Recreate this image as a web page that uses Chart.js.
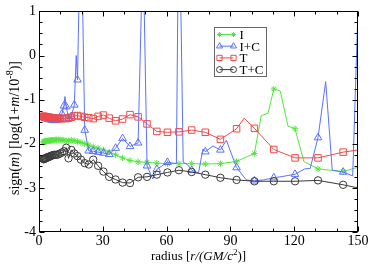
<!DOCTYPE html>
<html>
<head>
<meta charset="utf-8">
<script src="https://cdn.jsdelivr.net/npm/chart.js@4.4.1/dist/chart.umd.min.js"></script>
<style>
  html, body { margin: 0; padding: 0; background: #fff; }
  #wrap { width: 374px; height: 272px; position: relative; }
</style>
</head>
<body>
<div id="wrap"><canvas id="c"></canvas></div>
<script>
// radial grid the four runs were sampled on (markers sit on these)
const radius = [2.1, 2.3, 2.5, 2.7, 3.0, 3.2, 3.5, 3.8, 4.2, 4.6,
  5.0, 5.4, 5.9, 6.4, 7.0, 7.6, 8.3, 9.1, 9.9, 10.8,
  11.7, 12.8, 13.9, 15.2, 16.6, 18.1, 19.7, 21.5, 23.4, 25.5,
  27.8, 30.3, 33.0, 36.0, 39.3, 42.8, 46.6, 50.8, 55.4, 60.4,
  65.8, 71.8, 78.2, 85.3, 92.9, 101.3, 110.4, 120.4, 131.2, 143.0, 155.9];

// sign(m) log(1+|m|/1e-8) at each radius
const iVals = [-1.96, -1.96, -1.95, -1.95, -1.95, -1.94, -1.94, -1.94, -1.93, -1.93,
  -1.93, -1.93, -1.92, -1.92, -1.92, -1.91, -1.91, -1.91, -1.91, -1.92,
  -1.92, -1.93, -1.93, -1.92, -1.93, -1.95, -1.97, -2.00, -2.03, -2.07,
  -2.10, -2.14, -2.19, -2.25, -2.32, -2.38, -2.41, -2.42, -2.44, -2.45,
  -2.45, -2.45, -2.46, -2.45, -2.40, -2.22, -0.76, -1.66, -2.57, -2.63, -2.45];
const icVals = [-1.40, -1.40, -1.41, -1.41, -1.42, -1.42, -1.43, -1.43, -1.44, -1.44,
  -1.45, -1.45, -1.46, -1.46, -1.47, -1.47, -1.46, -1.45, -1.42, -1.32,
  -1.14, -1.16, -1.42, -1.38, -1.12, -0.55, 3.5, -1.69, -2.16, -2.17,
  -2.19, -2.21, -2.24, -2.10, -1.88, -2.06, -1.98, -2.50, -2.58, -2.42,
  4.0, -2.60, -2.18, -2.14, -2.54, -2.84, -2.77, -2.69, -1.86, -2.64, 10];
const tVals = [-1.38, -1.38, -1.38, -1.39, -1.39, -1.39, -1.39, -1.40, -1.40, -1.40,
  -1.40, -1.41, -1.41, -1.41, -1.42, -1.42, -1.42, -1.43, -1.43, -1.43,
  -1.42, -1.43, -1.42, -1.40, -1.37, -1.36, -1.38, -1.40, -1.41, -1.43,
  -1.38, -1.35, -1.42, -1.48, -1.44, -1.34, -1.39, -1.55, -1.72, -1.74,
  -1.73, -1.69, -1.74, -1.90, -1.66, -1.65, -2.13, -2.32, -2.32, -2.19, -2.10];
const tcVals = [-2.35, -2.35, -2.34, -2.34, -2.33, -2.33, -2.32, -2.31, -2.30, -2.30,
  -2.29, -2.28, -2.27, -2.26, -2.25, -2.25, -2.25, -2.24, -2.22, -2.20,
  -2.17, -2.09, -2.33, -2.14, -2.22, -2.28, -2.36, -2.44, -2.47, -2.36,
  -2.50, -2.63, -2.75, -2.81, -2.88, -2.89, -2.76, -2.75, -2.70, -2.65,
  -2.60, -2.64, -2.70, -2.77, -2.82, -2.85, -2.85, -2.85, -2.83, -2.93, -3.06];

// in-between points of the lines (drawn without a marker)
const iMidR = [104.5, 107.7, 113.4, 117.1, 124.5];
const iMidV = [-1.36, -1.31, -0.80, -1.60, -2.40];
const icMidR = [12.2, 17.5, 48.9, 53.5, 64.6, 67.8, 69.8, 75.0, 77.1, 81.8,
  88.1, 97.5, 105.5, 114.7, 124.9, 127.5, 134.8, 137.9, 147.5];
const icMidV = [-0.93, 0.0, 2.6, -2.80, -2.45, -2.42, -2.47, -2.66, -2.12, -2.05,
  -1.92, -2.82, -2.82, -2.74, -2.57, -2.56, -0.59, -2.60, -2.73];
const tMidR = [96.5];
const tMidV = [-1.42];
const tcMidR = [];
const tcMidV = [];

const seriesNames = ['I', 'I+C', 'T', 'T+C'];
const xMajor = [0, 30, 60, 90, 120, 150];
const yMajor = [-4, -3, -2, -1, 0, 1];
const xMinorStep = 10;
const yMinorStep = 0.25;

const SERIF = '"Liberation Serif", "Times New Roman", serif';

function build(vals, midR, midV) {
  const pts = radius.map((r, i) => ({ x: r, y: vals[i], m: 1 }));
  midR.forEach((r, i) => pts.push({ x: r, y: midV[i], m: 0 }));
  return pts.sort((a, b) => a.x - b.x);
}

const looks = [
  { color: '#55e640', pointStyle: 'star', r: 3.2 },
  { color: '#5a72ff', pointStyle: 'triangle', r: 4.4 },
  { color: '#f04a4a', pointStyle: 'rect', r: 4.6 },
  { color: '#3a3a3a', pointStyle: 'circle', r: 3.7 }
];
const dataSets = [
  build(iVals, iMidR, iMidV),
  build(icVals, icMidR, icMidV),
  build(tVals, tMidR, tMidV),
  build(tcVals, tcMidR, tcMidV)
];

function drawRuns(ctx, runs, size, cx, baseY) {
  const font = (r) => (r.it ? 'italic ' : '') + (r.sup ? Math.round(size * 0.68) : size) + 'px ' + SERIF;
  let total = 0;
  runs.forEach(r => { ctx.font = font(r); r.w = ctx.measureText(r.t).width; total += r.w; });
  let x = cx - total / 2;
  ctx.textAlign = 'left';
  ctx.textBaseline = 'alphabetic';
  runs.forEach(r => {
    ctx.font = font(r);
    ctx.fillText(r.t, x, baseY - (r.sup ? size * 0.42 : 0));
    x += r.w;
  });
}

// frame, inward ticks on all four sides, axis titles, legend
const decor = {
  id: 'decor',
  afterDraw(chart) {
    const { ctx, chartArea: a, scales } = chart;
    const xs = scales.x, ys = scales.y;
    ctx.save();
    ctx.strokeStyle = '#000';
    ctx.lineWidth = 1;
    const L = Math.round(a.left) + 0.5, R = Math.round(a.right) - 0.5;
    const T = Math.round(a.top) + 0.5, B = Math.round(a.bottom) - 0.5;
    ctx.strokeRect(L, T, R - L, B - T);
    ctx.beginPath();
    for (let v = xMajor[0]; v <= xMajor[xMajor.length - 1] + 1e-9; v += xMinorStep) {
      const len = xMajor.includes(v) ? 5 : 3;
      const px = Math.round(xs.getPixelForValue(v)) + 0.5;
      ctx.moveTo(px, B); ctx.lineTo(px, B - len);
      ctx.moveTo(px, T); ctx.lineTo(px, T + len);
    }
    for (let v = yMajor[0]; v <= yMajor[yMajor.length - 1] + 1e-9; v += yMinorStep) {
      const len = Math.abs(v - Math.round(v)) < 1e-6 ? 5 : 3;
      const py = Math.round(ys.getPixelForValue(v)) + 0.5;
      ctx.moveTo(L, py); ctx.lineTo(L + len, py);
      ctx.moveTo(R, py); ctx.lineTo(R - len, py);
    }
    ctx.stroke();

    ctx.fillStyle = '#000';
    drawRuns(ctx, [{ t: 'radius [' }, { t: 'r/(GM/c', it: true }, { t: '2', sup: true }, { t: ')]' }],
      13, (a.left + a.right) / 2, 260);
    ctx.save();
    ctx.translate(19, 128);
    ctx.rotate(-Math.PI / 2);
    drawRuns(ctx, [{ t: 'sign(' }, { t: 'm', it: true }, { t: ') [log(1+' }, { t: 'm', it: true },
      { t: '/10' }, { t: '-8', sup: true }, { t: ')]' }], 14, 0, 0);
    ctx.restore();

    // legend box
    const bx = 214.5, by = 27.5, bw = 52, bh = 49;
    ctx.fillStyle = '#fff';
    ctx.fillRect(bx, by, bw, bh);
    ctx.strokeStyle = '#666';
    ctx.strokeRect(bx, by, bw, bh);
    seriesNames.forEach((name, i) => {
      const y = by + 7 + i * 11.7;
      const lk = looks[i];
      ctx.strokeStyle = lk.color;
      ctx.fillStyle = 'rgba(0,0,0,0)';
      ctx.lineWidth = 1;
      ctx.beginPath();
      ctx.moveTo(bx + 5, y); ctx.lineTo(bx + 19, y);
      ctx.stroke();
      [bx + 5, bx + 19].forEach(px => {
        Chart.helpers.drawPoint(ctx, { pointStyle: lk.pointStyle, radius: lk.r * 0.8, rotation: 0, borderWidth: 1 }, px, y);
      });
      ctx.fillStyle = '#000';
      ctx.font = '13px ' + SERIF;
      ctx.textAlign = 'left';
      ctx.textBaseline = 'middle';
      ctx.fillText(name, bx + 25, y + 1);
    });
    ctx.restore();
  }
};

new Chart(document.getElementById('c'), {
  type: 'line',
  data: {
    datasets: dataSets.map((pts, i) => ({
      label: seriesNames[i],
      data: pts,
      borderColor: looks[i].color,
      backgroundColor: 'rgba(0,0,0,0)',
      borderWidth: 1,
      pointStyle: looks[i].pointStyle,
      pointBorderColor: looks[i].color,
      pointBackgroundColor: 'rgba(0,0,0,0)',
      pointBorderWidth: 1,
      pointRadius: (c) => (c.raw && c.raw.m ? looks[i].r : 0),
      tension: 0,
      fill: false,
      order: 3 - i
    }))
  },
  options: {
    responsive: true,
    maintainAspectRatio: false,
    animation: false,
    events: [],
    layout: { padding: { top: 9, right: 16, left: 0, bottom: 0 } },
    plugins: { legend: { display: false }, tooltip: { enabled: false } },
    scales: {
      x: {
        type: 'linear', min: 0, max: 150,
        afterBuildTicks: (s) => { s.ticks = xMajor.map(v => ({ value: v })); },
        afterFit: (s) => { s.height = 40; },
        grid: { display: false, drawTicks: false },
        border: { display: false },
        ticks: { color: '#000', padding: 1, maxRotation: 0, font: { family: SERIF, size: 14 } }
      },
      y: {
        type: 'linear', min: -4, max: 1,
        afterBuildTicks: (s) => { s.ticks = yMajor.map(v => ({ value: v })); },
        afterFit: (s) => { s.width = 39; },
        grid: { display: false, drawTicks: false },
        border: { display: false },
        ticks: { color: '#000', padding: 3, font: { family: SERIF, size: 14 } }
      }
    }
  },
  plugins: [decor]
});
</script>
</body>
</html>
